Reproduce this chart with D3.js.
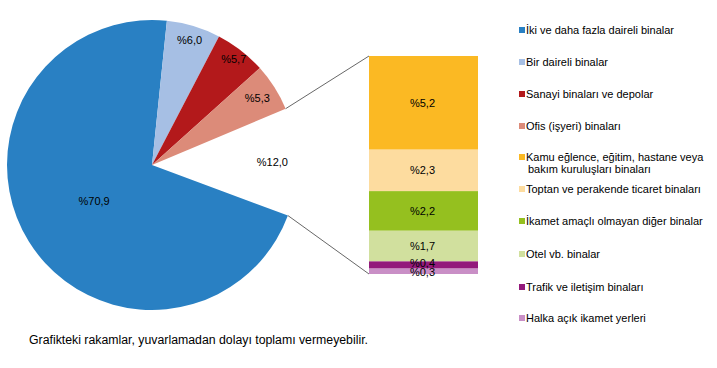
<!DOCTYPE html>
<html>
<head>
<meta charset="utf-8">
<script src="https://cdn.jsdelivr.net/npm/d3@7"></script>
<style>
  body { margin: 0; background: #fff; }
  text { font-family: "Liberation Sans", Arial, sans-serif; fill: #000; }
</style>
</head>
<body>
<svg id="chart" width="717" height="368"></svg>
<script>
// pasta dilimleri (son dilim = "diğer", sağdaki çubukta açılıyor)
const pieNames = ['İki ve daha fazla daireli binalar', 'Bir daireli binalar', 'Sanayi binaları ve depolar', 'Ofis (işyeri) binaları', 'Diğer']
const pieValues = [70.9, 6.0, 5.7, 5.3, 12.0]
const pieColors = ['#2980c3', '#a6bfe4', '#b3191b', '#dc8b79', 'none']

// çubuk dilimleri (yukarıdan aşağıya)
const barNames = ['Kamu eğlence, eğitim, hastane veya bakım kuruluşları binaları', 'Toptan ve perakende ticaret binaları', 'İkamet amaçlı olmayan diğer binalar', 'Otel vb. binalar', 'Trafik ve iletişim binaları', 'Halka açık ikamet yerleri']
const barValues = [5.2, 2.3, 2.2, 1.7, 0.4, 0.3]
const barColors = ['#fbb923', '#fddc9f', '#95c01f', '#d1e09e', '#931a7b', '#c98fc6']

const legendLabels = [
  ['İki ve daha fazla daireli binalar'],
  ['Bir daireli binalar'],
  ['Sanayi binaları ve depolar'],
  ['Ofis (işyeri) binaları'],
  ['Kamu eğlence, eğitim, hastane veya', 'bakım kuruluşları binaları'],
  ['Toptan ve perakende ticaret binaları'],
  ['İkamet amaçlı olmayan diğer binalar'],
  ['Otel vb. binalar'],
  ['Trafik ve iletişim binaları'],
  ['Halka açık ikamet yerleri']
]
const legendColors = pieColors.slice(0, 4).concat(barColors)

const fmt = v => '%' + v.toFixed(1).replace('.', ',')

const svg = d3.select('#chart')
const cx = 152, cy = 165, R = 145

const pie = d3.pie().sort(null).value(d => d).startAngle(110.4 * Math.PI / 180).endAngle((110.4 + 360) * Math.PI / 180)
const arcs = pie(pieValues)
const arc = d3.arc().innerRadius(0).outerRadius(R)

const gPie = svg.append('g').attr('transform', `translate(${cx},${cy})`)
gPie.selectAll('path')
  .data(arcs)
  .join('path')
  .attr('d', arc)
  .attr('fill', (d, i) => pieColors[i])

// etiketler
const labelR = [0.47, 0.9, 0.92, 0.86, 0.83]
gPie.selectAll('text.lbl')
  .data(arcs)
  .join('text')
  .attr('class', 'lbl')
  .attr('font-size', 11)
  .attr('text-anchor', 'middle')
  .attr('dy', '0.35em')
  .attr('transform', (d, i) => {
    const a = (d.startAngle + d.endAngle) / 2
    const r = R * labelR[i]
    return `translate(${r * Math.sin(a)},${-r * Math.cos(a)})`
  })
  .text((d, i) => fmt(pieValues[i]))

// sağdaki çubuk
const barX = 369, barW = 109, barTop = 56, barBottom = 274
const y = d3.scaleLinear().domain([0, d3.sum(barValues)]).range([barTop, barBottom])
let acc = 0
const stack = barValues.map(v => { const s = acc; acc += v; return [s, acc] })

const gBar = svg.append('g')
gBar.selectAll('rect')
  .data(stack)
  .join('rect')
  .attr('x', barX)
  .attr('width', barW)
  .attr('y', d => y(d[0]))
  .attr('height', d => y(d[1]) - y(d[0]))
  .attr('fill', (d, i) => barColors[i])

gBar.selectAll('text')
  .data(stack)
  .join('text')
  .attr('font-size', 11)
  .attr('text-anchor', 'middle')
  .attr('dy', '0.35em')
  .attr('x', barX + barW / 2 - 1)
  .attr('y', (d, i) => (y(d[0]) + y(d[1])) / 2 + (i === 4 ? -2 : i === 5 ? 1 : 0))
  .text((d, i) => fmt(barValues[i]))

// bağlantı çizgileri
const other = arcs[4]
const p1 = [cx + R * Math.sin(other.startAngle), cy - R * Math.cos(other.startAngle)]
const p2 = [cx + R * Math.sin(other.endAngle), cy - R * Math.cos(other.endAngle)]
svg.append('line').attr('x1', p1[0]).attr('y1', p1[1]).attr('x2', barX).attr('y2', barTop)
  .attr('stroke', '#404040').attr('stroke-width', 0.8)
svg.append('line').attr('x1', p2[0]).attr('y1', p2[1]).attr('x2', barX).attr('y2', barBottom)
  .attr('stroke', '#404040').attr('stroke-width', 0.8)

// lejant
const legendY = [30, 62, 94, 126, 157, 189, 221, 254, 287, 318]
const gLeg = svg.append('g')
legendLabels.forEach((lines, i) => {
  gLeg.append('rect')
    .attr('x', 519).attr('y', legendY[i] - 3).attr('width', 6).attr('height', 6)
    .attr('fill', legendColors[i])
  lines.forEach((t, j) => {
    gLeg.append('text')
      .attr('x', j === 0 ? 526 : 528)
      .attr('y', legendY[i] + j * 12)
      .attr('dy', '0.35em')
      .attr('font-size', 11)
      .text(t)
  })
})

svg.append('text')
  .attr('x', 29).attr('y', 340).attr('dy', '0.35em')
  .attr('font-size', 12.3)
  .text('Grafikteki rakamlar, yuvarlamadan dolayı toplamı vermeyebilir.')
</script>
</body>
</html>
